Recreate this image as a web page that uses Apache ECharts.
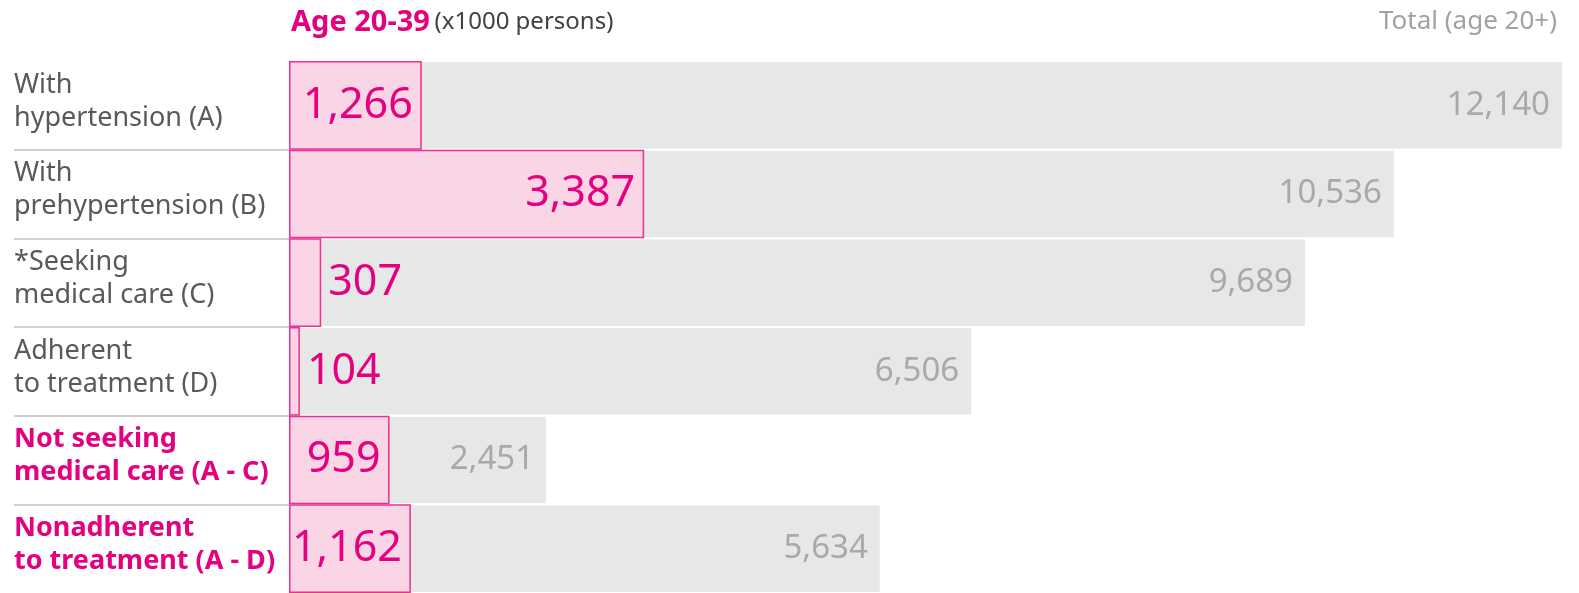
<!DOCTYPE html>
<html><head><meta charset="utf-8">
<script src="https://cdn.jsdelivr.net/npm/echarts@6/dist/echarts.min.js"></script>
<style>html,body{margin:0;padding:0;background:#fff}#c{width:1579px;height:593px}</style>
</head><body><div id="c"></div>
<script>
const categories = ['With\nhypertension (A)', 'With\nprehypertension (B)', '*Seeking\nmedical care (C)', 'Adherent\nto treatment (D)', 'Not seeking\nmedical care (A - C)', 'Nonadherent\nto treatment (A - D)'];
const highlighted = [false, false, false, false, true, true];
const age2039 = [1266, 3387, 307, 104, 959, 1162];
const totalAge20 = [12140, 10536, 9689, 6506, 2451, 5634];
const titleMain = 'Age 20-39';
const titleUnit = '(x1000 persons)';
const titleTotal = 'Total (age 20+)';

const FONT = '"Noto Sans", sans-serif';
const PINK = '#e4007f';
const GRID_LEFT = 289, GRID_RIGHT = 17, W = 1579;
const PINK_FS = 43;
const xMax = Math.max(...totalAge20);
const plotW = W - GRID_LEFT - GRID_RIGHT;
const fmt = v => v.toLocaleString('en-US');

// labels go outside (to the right) only when the bar is far too narrow for them
const pinkData = age2039.map(v => {
  const px = v / xMax * plotW;
  const need = String(v).length * 0.45 * PINK_FS;
  return px < need ? { value: v, label: { position: 'right', distance: 7 } } : v;
});

const chart = echarts.init(document.getElementById('c'), null, { renderer: 'canvas' });
chart.setOption({
  animation: false,
  backgroundColor: '#fff',
  textStyle: { fontFamily: FONT },
  title: [
    { text: '{a|' + titleMain + '} {b|' + titleUnit + '}', left: GRID_LEFT - 3, top: 3,
      textStyle: { rich: {
        a: { fontFamily: FONT, fontSize: 29, fontWeight: 'bold', color: PINK },
        b: { fontFamily: FONT, fontSize: 24, fontWeight: 'normal', color: '#414042' } } } },
    { text: titleTotal, right: GRID_RIGHT, top: 4,
      textStyle: { fontFamily: FONT, fontSize: 26, fontWeight: 'normal', color: '#a0a2a5' } }
  ],
  grid: [
    { left: GRID_LEFT, right: GRID_RIGHT, top: 61, bottom: 0 },
    { left: 14, width: GRID_LEFT - 14, top: 61, bottom: 0 }
  ],
  xAxis: [
    { type: 'value', gridIndex: 0, min: 0, max: xMax, show: false },
    { type: 'value', gridIndex: 1, min: 0, max: 1, show: false }
  ],
  yAxis: [
    { type: 'category', gridIndex: 0, data: categories, inverse: true,
      axisLine: { show: false }, axisTick: { show: false }, splitLine: { show: false },
      axisLabel: {
        margin: GRID_LEFT - 14, align: 'left', padding: [0, 0, 8, 0],
        formatter: (val, idx) => {
          const k = highlighted[idx] ? 'p' : 'n';
          return val.split('\n').map(s => '{' + k + '|' + s + '}').join('\n');
        },
        rich: {
          n: { fontFamily: FONT, fontSize: 27, lineHeight: 33, color: '#58595b' },
          p: { fontFamily: FONT, fontSize: 27, lineHeight: 33, color: PINK, fontWeight: 'bold' }
        }
      } },
    { type: 'category', gridIndex: 0, data: categories, inverse: true, show: false },
    { type: 'category', gridIndex: 1, data: categories, inverse: true,
      axisLine: { show: false }, axisTick: { show: false }, axisLabel: { show: false },
      splitLine: { show: true, showMinLine: false, showMaxLine: false,
        lineStyle: { width: 2, color: '#cfcfcf' } } }
  ],
  series: [
    { type: 'bar', xAxisIndex: 0, yAxisIndex: 0, data: totalAge20, barWidth: '97.5%',
      itemStyle: { color: '#e6e7e7' }, silent: true,
      label: { show: true, position: 'insideRight', distance: 12, formatter: p => fmt(p.value),
        fontFamily: FONT, fontSize: 33, color: '#a7a9ac' } },
    { type: 'bar', xAxisIndex: 0, yAxisIndex: 1, data: pinkData, barWidth: '100%',
      itemStyle: { color: '#f9d5e5', borderColor: '#ec2f92', borderWidth: 1.5 }, silent: true,
      label: { show: true, position: 'insideRight', distance: 9, formatter: p => fmt(p.value),
        fontFamily: FONT, fontSize: PINK_FS, color: PINK } }
  ]
});
</script></body></html>
